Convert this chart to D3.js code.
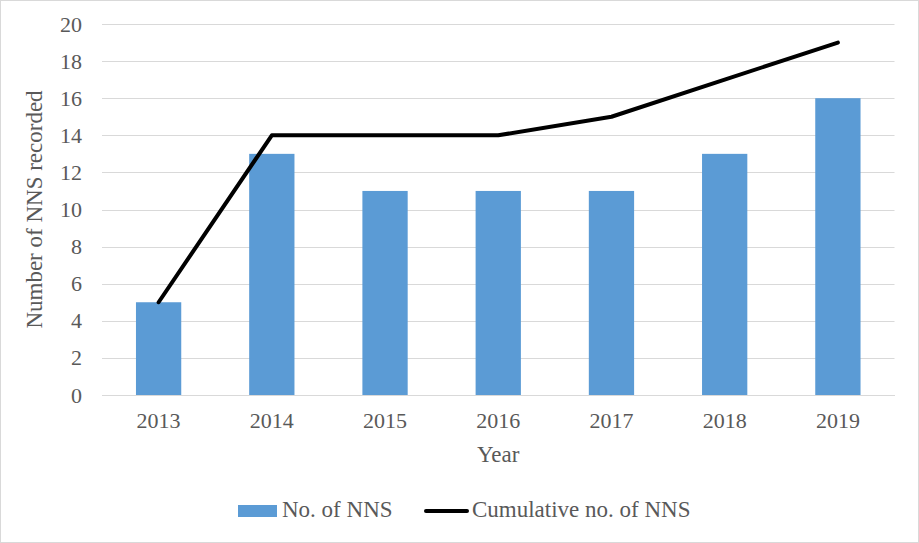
<!DOCTYPE html>
<html><head><meta charset="utf-8">
<script src="https://cdn.jsdelivr.net/npm/d3@7"></script>
<style>body{margin:0;background:#fff}svg{display:block}</style>
</head><body>
<svg id="c" width="919" height="543"></svg>
<script>
const years = ["2013","2014","2015","2016","2017","2018","2019"];
const nnsCount = [5,13,11,11,11,13,16];
const cumulativeNns = [5,14,14,14,15,17,19];
const yTicks = [0,2,4,6,8,10,12,14,16,18,20];

const svg = d3.select("#c");
const W = 919, H = 543;
const m = {l:102, r:24.5, t:24, b:148};
const font = "'Liberation Serif','Times New Roman',serif";
const txt = "#595959";

svg.append("rect").attr("x",0.5).attr("y",0.5).attr("width",W-1).attr("height",H-1)
  .attr("fill","#fff").attr("stroke","#d9d9d9").attr("stroke-width",1);

const x = d3.scaleBand().domain(years).range([m.l, W-m.r]).paddingInner(0.6).paddingOuter(0.3);
const y = d3.scaleLinear().domain([0,20]).range([H-m.b, m.t]);

// gridlines
svg.append("g").selectAll("line").data(yTicks).join("line")
  .attr("x1",m.l).attr("x2",W-m.r)
  .attr("y1",d=>Math.round(y(d))+0.5).attr("y2",d=>Math.round(y(d))+0.5)
  .attr("stroke","#d9d9d9").attr("stroke-width",1);

// y axis labels
const yAxis = d3.axisLeft(y).tickValues(yTicks).tickSize(0).tickPadding(20);
const ga = svg.append("g").attr("transform",`translate(${m.l},0)`).call(yAxis);
ga.select(".domain").remove();
ga.selectAll("text").attr("font-family",font).attr("font-size",22).attr("fill",txt);

// bars
svg.append("g").selectAll("rect").data(years).join("rect")
  .attr("x",d=>x(d)).attr("width",x.bandwidth())
  .attr("y",(d,i)=>y(nnsCount[i])).attr("height",(d,i)=>y(0)-y(nnsCount[i]))
  .attr("fill","#5b9bd5");

// x axis
const xAxis = d3.axisBottom(x).tickSize(0).tickPadding(17);
const gx = svg.append("g").attr("transform",`translate(0,${y(0)})`).call(xAxis);
gx.select(".domain").attr("stroke","#d9d9d9");
gx.selectAll("text").attr("font-family",font).attr("font-size",22).attr("fill",txt);

// line
const line = d3.line().x((d,i)=>x(years[i])+x.bandwidth()/2).y(d=>y(d));
svg.append("path").datum(cumulativeNns).attr("d",line)
  .attr("fill","none").attr("stroke","#000").attr("stroke-width",4)
  .attr("stroke-linecap","round").attr("stroke-linejoin","round");

// axis titles
svg.append("text").attr("x",(m.l+W-m.r)/2).attr("y",462).attr("text-anchor","middle")
  .attr("font-family",font).attr("font-size",23).attr("fill",txt).text("Year");
svg.append("text").attr("transform",`translate(42,${(m.t+H-m.b)/2}) rotate(-90)`)
  .attr("text-anchor","middle").attr("font-family",font).attr("font-size",23).attr("fill",txt)
  .text("Number of NNS recorded");

// legend
const lg = svg.append("g");
lg.append("rect").attr("x",238).attr("y",505).attr("width",39).attr("height",12).attr("fill","#5b9bd5");
lg.append("text").attr("x",282).attr("y",517).attr("font-family",font).attr("font-size",23).attr("fill",txt).text("No. of NNS");
lg.append("line").attr("x1",426).attr("x2",467).attr("y1",511).attr("y2",511)
  .attr("stroke","#000").attr("stroke-width",4).attr("stroke-linecap","round");
lg.append("text").attr("x",472).attr("y",517).attr("font-family",font).attr("font-size",23).attr("fill",txt).text("Cumulative no. of NNS");
</script>
</body></html>
